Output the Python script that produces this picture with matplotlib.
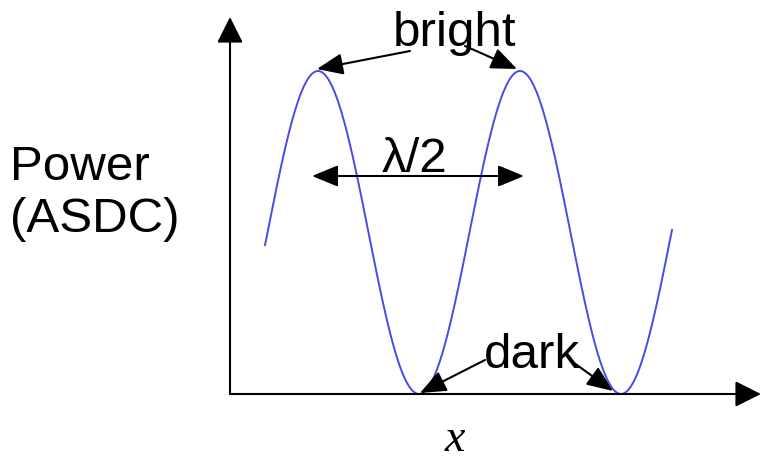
import numpy as np
import matplotlib.pyplot as plt

# schematic: interference pattern along x (units ~ pixels from the origin)
x_start, x_end = 35, 442
peak_pos = 88
period = 202
power_max = 323

label_bright = "bright"
label_dark = "dark"
label_half = "λ/2"
label_power = "Power\n(ASDC)"
label_x = "x"

x = np.linspace(x_start, x_end, 600)
power = power_max / 2 * (1 + np.cos(2 * np.pi * (x - peak_pos) / period))
peaks = [peak_pos, peak_pos + period]
troughs = [peak_pos + period / 2, peak_pos + 1.5 * period]

fig = plt.figure(figsize=(7.61, 4.60), dpi=100)
ax = fig.add_axes([0, 0, 1, 1])
ax.set_xlim(-230, 531)
ax.set_ylim(-65, 395)
ax.axis("off")

ax.plot(x, power, color="#4a4ae6", lw=1.4)

# axes with arrows
axis_arrow = dict(arrowstyle="-|>,head_length=0.8,head_width=0.4",
                  mutation_scale=20, color="black", lw=1.5, shrinkA=0, shrinkB=0)
ax.annotate("", xy=(0, 377), xytext=(0, 0), arrowprops=axis_arrow,
            annotation_clip=False)
ax.annotate("", xy=(531, 0), xytext=(0, 0), arrowprops=axis_arrow,
            annotation_clip=False)

ann_arrow = dict(arrowstyle="-|>,head_length=0.8,head_width=0.33",
                 mutation_scale=20, color="black", lw=1.5, shrinkA=0, shrinkB=0)
font = dict(family="Liberation Sans", size=35.5)

ax.text(225, 362, label_bright, ha="center", va="center", **font)
ax.annotate("", xy=(peaks[0] - 1, power_max + 2), xytext=(180, 343), arrowprops=ann_arrow)
ax.annotate("", xy=(peaks[1] - 3, power_max + 2), xytext=(235, 348), arrowprops=ann_arrow)

ax.text(302, 40, label_dark, ha="center", va="center", **font)
ax.annotate("", xy=(troughs[0] + 1, 1), xytext=(255, 34), arrowprops=ann_arrow)
ax.annotate("", xy=(troughs[1] - 8, 3), xytext=(340, 34), arrowprops=ann_arrow)

ax.text(185, 236, label_half, ha="center", va="center", **font)
ax.annotate("", xy=(peaks[0] - 6, 218), xytext=(peaks[1] + 4, 218),
            arrowprops=dict(arrowstyle="<|-|>,head_length=0.8,head_width=0.33",
                            mutation_scale=20, color="black", lw=1.5,
                            shrinkA=0, shrinkB=0))

ax.text(-220, 202, label_power, ha="left", va="center", linespacing=1.2, **font)
ax.text(225, -45, label_x, ha="center", va="center", family="Liberation Serif",
        style="italic", size=33)

fig.savefig("out.png", dpi=100)
plt.close(fig)
